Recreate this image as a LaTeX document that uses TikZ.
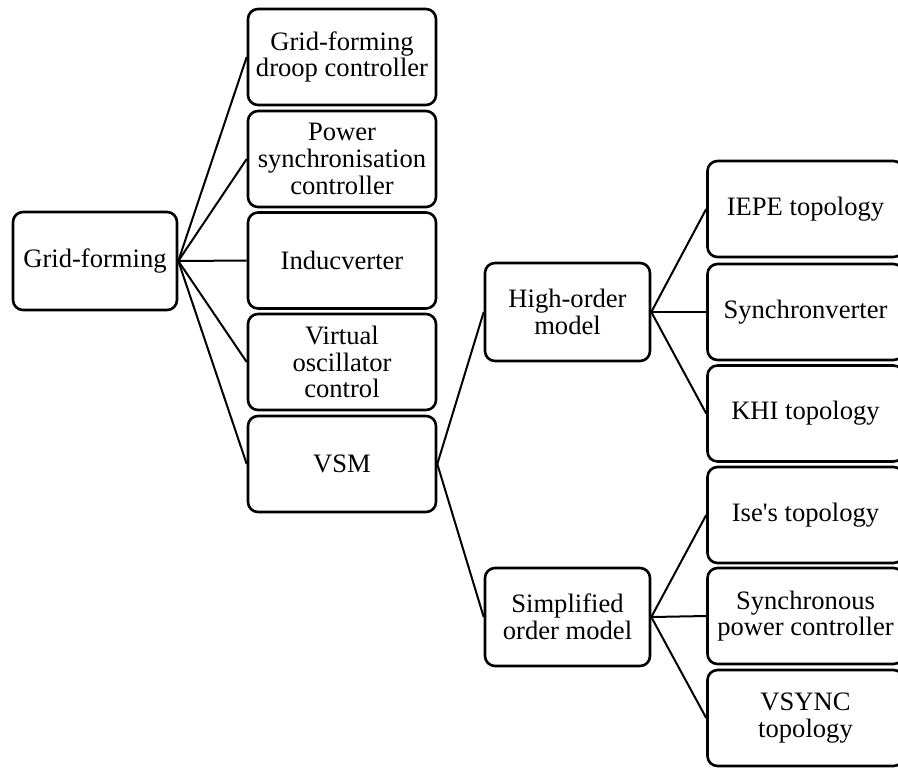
\documentclass[tikz,border=0pt]{standalone}
\usepackage{fontspec}
\setmainfont{Liberation Serif}
\usetikzlibrary{positioning}

\tikzset{
  box/.style={draw, line width=1.3pt, rounded corners=5pt, align=center,
    inner sep=1pt, font=\fontsize{13.3}{13.4}\selectfont},
  rootbox/.style={box, minimum width=82pt, minimum height=49pt},
  midbox/.style={box, minimum width=94pt, minimum height=48pt},
  modelbox/.style={box, minimum width=82.5pt, minimum height=49pt},
  leafbox/.style={box, minimum width=98pt, minimum height=48pt},
  link/.style={line width=1pt}
}

\begin{document}
\begin{tikzpicture}[x=0.5pt, y=-0.5pt]
% page size
\useasboundingbox (0,0) rectangle (898,767);

% root
\node[rootbox] (gf) at (95, 261) {Grid-forming};

% first level
\node[midbox] (droop) at (342, 57) {Grid-forming\\droop controller};
\node[midbox] (psc) at (342, 159) {Power\\synchronisation\\controller};
\node[midbox] (induc) at (342, 260.5) {Inducverter};
\node[midbox] (voc) at (342, 362) {Virtual\\oscillator\\control};
\node[midbox] (vsm) at (342, 464) {VSM};

% VSM models
\node[modelbox] (high) at (567.5, 312) {High-order\\model};
\node[modelbox] (simple) at (567.5, 617) {Simplified\\order model};

% topologies
\node[leafbox] (iepe) at (805.5, 209) {IEPE topology};
\node[leafbox] (synv) at (805.5, 312) {Synchronverter};
\node[leafbox] (khi) at (805.5, 413.5) {KHI topology};
\node[leafbox] (ise) at (805.5, 515) {Ise\textquotesingle s topology};
\node[leafbox] (spc) at (805.5, 616) {Synchronous\\power controller};
\node[leafbox] (vsync) at (805.5, 718) {VSYNC\\topology};

% links
\foreach \n in {droop, psc, induc, voc, vsm}
  \draw[link] (gf.east) -- (\n.west);
\foreach \n in {high, simple}
  \draw[link] (vsm.east) -- (\n.west);
\foreach \n in {iepe, synv, khi}
  \draw[link] (high.east) -- (\n.west);
\foreach \n in {ise, spc, vsync}
  \draw[link] (simple.east) -- (\n.west);
\end{tikzpicture}
\end{document}
